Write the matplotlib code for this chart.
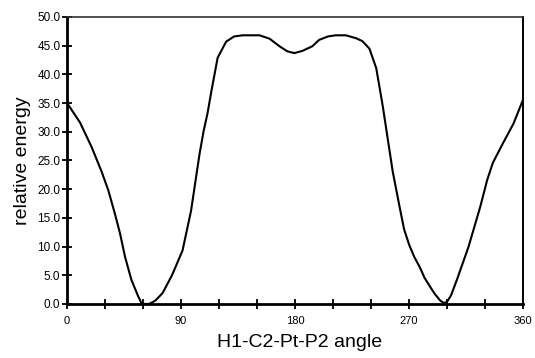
import numpy as np
import matplotlib.pyplot as plt

plt.rcParams['font.family'] = ['Liberation Sans', 'DejaVu Sans']

# torsion angle (deg) and relative energy
angle = [0, 10.5, 19.7, 27.6, 32.8, 38, 42, 46, 51, 56.4, 59, 61.5, 65,
         70, 75.6, 83, 91.3, 98, 104.7, 108, 111, 114, 119, 125.7, 132,
         138.8, 152, 160, 167.7, 174, 179.5, 186, 193.7, 199, 206, 212, 220,
         228, 233, 238.6, 244, 249, 253, 257, 262, 266, 270, 274, 278.6,
         282, 286.5, 290, 294.4, 297, 299.7, 303, 307.6, 316.7, 326, 331.5,
         336, 343, 352.2, 360]
energy = [35.1, 31.6, 27.3, 23.0, 19.8, 15.7, 12.3, 8.2, 4.2, 1.3, 0.1,
          0.0, 0.0, 0.6, 1.9, 5.0, 9.3, 16.2, 26.1, 30.2, 33.2, 37.0, 42.9,
          45.7, 46.6, 46.8, 46.8, 46.2, 44.9, 44.0, 43.7, 44.1, 44.9, 46.0,
          46.6, 46.8, 46.8, 46.3, 45.8, 44.5, 41.1, 34.7, 28.9, 23.1, 17.4,
          13.0, 10.3, 8.2, 6.3, 4.6, 3.0, 1.8, 0.6, 0.2, 0.3, 1.5, 4.2, 9.9,
          16.9, 21.6, 24.6, 27.6, 31.4, 35.7]

x_major = [0, 90, 180, 270, 360]
x_minor = [30, 60, 120, 150, 210, 240, 300, 330]
y_ticks = np.arange(0, 50.1, 5)

fig = plt.figure(figsize=(5.35, 3.58), dpi=100)
ax = fig.add_axes([0.1247, 0.151, 0.8535, 0.8017])

ax.plot(angle, energy, color='black', lw=1.5)

ax.set_xlim(0, 360)
ax.set_ylim(0, 50)
ax.set_xticks(x_major)
ax.set_xticks(x_minor, minor=True)
ax.set_yticks(y_ticks)
ax.set_yticklabels(['%.1f' % v for v in y_ticks])
ax.tick_params(axis='both', which='both', direction='inout', length=7,
               width=1.3, color='black')
ax.tick_params(axis='x', labelsize=8, pad=5)
ax.tick_params(axis='y', labelsize=8.5, pad=1)

for side in ['left', 'bottom']:
    ax.spines[side].set_linewidth(2)
ax.spines['top'].set_linewidth(1.2)
ax.spines['top'].set_color('#333333')
ax.spines['right'].set_linewidth(1.4)

ax.set_xlabel('H1-C2-Pt-P2 angle', fontsize=14)
ax.xaxis.set_label_coords(0.51, -0.105)
ax.set_ylabel('relative energy', fontsize=14)
ax.yaxis.set_label_coords(-0.078, 0.5)

fig.savefig('out.png', dpi=100)
